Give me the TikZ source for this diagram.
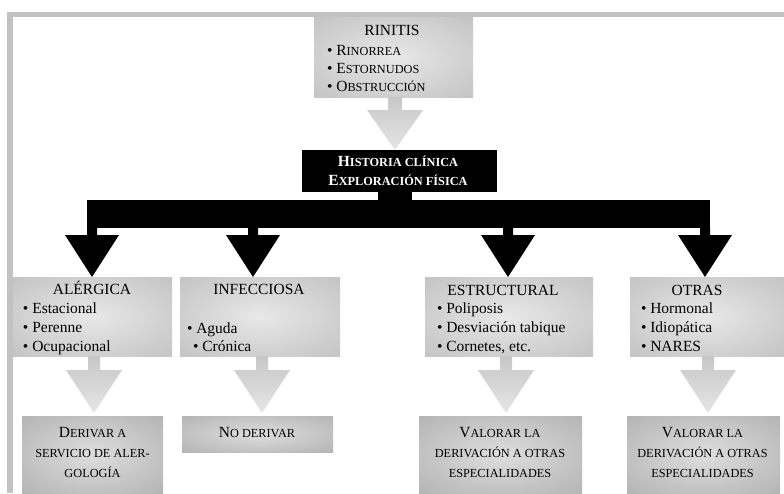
\documentclass[tikz,border=0pt]{standalone}
\usepackage{fontspec}
\setmainfont{Liberation Serif}
\usetikzlibrary{calc}
\definecolor{framec}{gray}{0.76}
\definecolor{topin}{gray}{0.91}
\definecolor{topout}{gray}{0.71}
\definecolor{botin}{gray}{0.87}
\definecolor{botout}{gray}{0.64}
\definecolor{arrtop}{gray}{0.78}
\definecolor{arrbot}{gray}{0.90}
\pgfdeclareradialshading{softtop}{\pgfpoint{0bp}{0bp}}{color(0bp)=(topin); color(50bp)=(topout)}
\pgfdeclareradialshading{softbot}{\pgfpoint{0bp}{0bp}}{color(0bp)=(botin); color(50bp)=(botout)}
\newcommand\smc[1]{{\fontsize{12.3}{14}\selectfont #1}}
% block arrow: #1 x-coordinate name, #2 from node, #3 to node, #4 stem length,
% #5 stem half width, #6 head half width, #7 tip offset, #8 style
\newcommand\blockarrow[8]{%
  \path[#8] ($(#1 |- #2.south)+(-#5,0)$) -- ($(#1 |- #2.south)+(#5,0)$)
    -- ($(#1 |- #2.south)+(#5,#4)$) -- ($(#1 |- #2.south)+(#6,#4)$)
    -- ($(#1 |- #3.north)+(0,-#7)$)
    -- ($(#1 |- #2.south)+(-#6,#4)$) -- ($(#1 |- #2.south)+(-#5,#4)$) -- cycle;}
\tikzset{
  boxtop/.style={rectangle, inner sep=0pt, outer sep=0pt, shading=softtop},
  boxbot/.style={rectangle, inner sep=0pt, outer sep=0pt, shading=softbot},
  blackbox/.style={rectangle, inner sep=0pt, outer sep=0pt, fill=black},
  txt/.style={inner sep=0pt, outer sep=0pt, font=\fontsize{15.5}{19}\selectfont},
  grayarrow/.style={top color=arrtop, bottom color=arrbot},
  blackarrow/.style={fill=black},
}
\begin{document}
\begin{tikzpicture}[x=1pt,y=-1pt]
\useasboundingbox (0,0) rectangle (784,493);
% frame
\fill[framec] (7,12) rectangle (784,17);
\fill[framec] (7,12) rectangle (13,493);

% boxes
\node[boxtop, minimum width=159pt, minimum height=80pt] (rin) at (393.5,57) {};
\node[blackbox, minimum width=195pt, minimum height=42pt] (hist) at (399.5,171) {};
\node[blackbox, minimum width=623pt, minimum height=28pt] (bar) at (398.5,214) {};
\node[boxtop, minimum width=159pt, minimum height=79pt] (alg) at (92.5,316.5) {};
\node[boxtop, minimum width=160pt, minimum height=79pt] (inf) at (260,316.5) {};
\node[boxtop, minimum width=168pt, minimum height=79pt] (est) at (509,316.5) {};
\node[boxtop, minimum width=154pt, minimum height=79pt] (otr) at (707,316.5) {};
\node[boxbot, minimum width=141pt, minimum height=77pt] (der) at (92.5,454.5) {};
\node[boxbot, minimum width=151pt, minimum height=36pt] (nod) at (257.5,434) {};
\node[boxbot, minimum width=163pt, minimum height=77pt] (val1) at (500.5,454.5) {};
\node[boxbot, minimum width=153pt, minimum height=77pt] (val2) at (703.5,454.5) {};

% x references for connectors
\coordinate (xa0) at (395,0);
\coordinate (xs) at (395,0);
\coordinate (xb1) at (92,0);
\coordinate (xb2) at (253,0);
\coordinate (xb3) at (508,0);
\coordinate (xb4) at (705,0);
\coordinate (xg1) at (94,0);
\coordinate (xg2) at (262,0);
\coordinate (xg3) at (506,0);
\coordinate (xg4) at (708,0);

% gray arrow rinitis -> historia
\blockarrow{xa0}{rin}{hist}{13}{7}{28}{0}{grayarrow}
% black stem historia -> bar
\fill[black] ($(xs |- hist.south)+(-17,-1)$) rectangle ($(xs |- bar.north)+(17,1)$);
% black arrows bar -> categories
\blockarrow{xb1}{bar}{alg}{7}{5}{27}{0}{blackarrow}
\blockarrow{xb2}{bar}{inf}{7}{5}{27}{0}{blackarrow}
\blockarrow{xb3}{bar}{est}{7}{5}{27}{0}{blackarrow}
\blockarrow{xb4}{bar}{otr}{7}{5}{27}{0}{blackarrow}
% gray arrows categories -> actions
\blockarrow{xg1}{alg}{der}{14}{6}{28}{3}{grayarrow}
\blockarrow{xg2}{inf}{nod}{14}{6}{28}{3}{grayarrow}
\blockarrow{xg3}{est}{val1}{14}{6}{28}{3}{grayarrow}
\blockarrow{xg4}{otr}{val2}{14}{6}{28}{3}{grayarrow}

% texts
\node[txt, anchor=base] (rint) at (392,35.5) {RINITIS};
\node[txt, anchor=base west] (rinl) at (327,55) {\fontsize{15.5}{18}\selectfont\begin{tabular}[t]{@{}l@{}}• R\smc{INORREA}\\• E\smc{STORNUDOS}\\• O\smc{BSTRUCCIÓN}\end{tabular}};
\node[txt, anchor=base, text=white] (histt) at (398,166.7) {\fontsize{15.5}{18.3}\selectfont\bfseries\begin{tabular}[t]{@{}c@{}}H\smc{ISTORIA CLÍNICA}\\E\smc{XPLORACIÓN FÍSICA}\end{tabular}};

\node[txt, anchor=base] (algt) at (92,294) {ALÉRGICA};
\node[txt, anchor=base west] (algl) at (23,313) {\begin{tabular}[t]{@{}l@{}}• Estacional\\• Perenne\\• Ocupacional\end{tabular}};
\node[txt, anchor=base] (inft) at (259,294) {INFECCIOSA};
\node[txt, anchor=base west] (infl) at (187,333) {\fontsize{15.5}{18}\selectfont\begin{tabular}[t]{@{}l@{}}• Aguda\\\hspace{6pt}• Crónica\end{tabular}};
\node[txt, anchor=base] (estt) at (503,295) {ESTRUCTURAL};
\node[txt, anchor=base west] (estl) at (437,313) {\begin{tabular}[t]{@{}l@{}}• Poliposis\\• Desviación tabique\\• Cornetes, etc.\end{tabular}};
\node[txt, anchor=base] (otrt) at (697,295) {OTRAS};
\node[txt, anchor=base west] (otrl) at (641,313) {\begin{tabular}[t]{@{}l@{}}• Hormonal\\• Idiopática\\• NARES\end{tabular}};

\node[txt, anchor=base] (dert) at (92.5,437) {\fontsize{15.5}{20}\selectfont\begin{tabular}[t]{@{}c@{}}D\smc{ERIVAR A}\\\smc{SERVICIO DE ALER-}\\\smc{GOLOGÍA}\end{tabular}};
\node[txt, anchor=base] (nodt) at (257,437) {N\smc{O DERIVAR}};
\node[txt, anchor=base] (val1t) at (500,437) {\fontsize{15.5}{20}\selectfont\begin{tabular}[t]{@{}c@{}}V\smc{ALORAR LA}\\\smc{DERIVACIÓN A OTRAS}\\\smc{ESPECIALIDADES}\end{tabular}};
\node[txt, anchor=base] (val2t) at (702.5,437) {\fontsize{15.5}{20}\selectfont\begin{tabular}[t]{@{}c@{}}V\smc{ALORAR LA}\\\smc{DERIVACIÓN A OTRAS}\\\smc{ESPECIALIDADES}\end{tabular}};
\end{tikzpicture}
\end{document}
